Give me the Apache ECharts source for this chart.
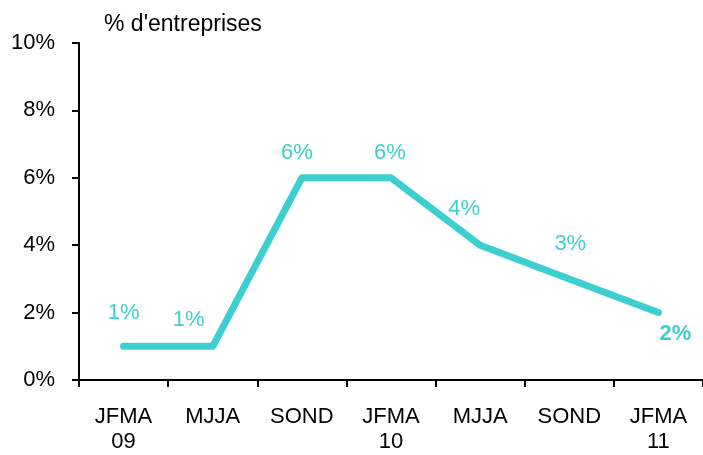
<!DOCTYPE html>
<html lang="fr">
<head>
    <meta charset="UTF-8">
    <title>% d'entreprises</title>
    <style>
        body,html{
            margin: 0;
            height: 100%;
            width: 100%;
            background: #fff;
        }
    </style>
</head>
<body>
<div id="main" style="height: 455px; width: 703px;"></div>
<script src="https://cdn.jsdelivr.net/npm/echarts@6/dist/echarts.min.js"></script>
<script>
    var periods = ['JFMA\n09', 'MJJA', 'SOND', 'JFMA\n10', 'MJJA', 'SOND', 'JFMA\n11'];
    var shares = [1, 1, 6, 6, 4, 3, 2];
    // where each value label sits, relative to its point
    var labelShift = [[0, -33], [-24, -26], [-5, -25], [-1, -25], [-16, -36], [1, -35], [17, 21]];

    var teal = '#3dcfcf';
    var font = 'Liberation Sans, Arial, sans-serif';

    var myChart = echarts.init(document.getElementById('main'));

    myChart.setOption({
        animation: false,
        grid: {left: 79, top: 43, right: -2, bottom: 75},
        title: {
            text: "% d'entreprises",
            left: 99, top: 8,
            textStyle: {fontFamily: font, fontSize: 23, fontWeight: 'normal', color: '#000'}
        },
        xAxis: {
            type: 'category',
            data: periods,
            boundaryGap: true,
            axisLine: {lineStyle: {color: '#000', width: 2}},
            axisTick: {show: true, length: 7, lineStyle: {color: '#000', width: 2}},
            axisLabel: {
                color: '#000', fontFamily: font, fontSize: 22, margin: 24,
                lineHeight: 25, interval: 0
            }
        },
        yAxis: {
            type: 'value',
            min: 0, max: 10, interval: 2,
            splitLine: {show: false},
            axisLine: {show: true, lineStyle: {color: '#000', width: 2}},
            axisTick: {show: true, length: 7, lineStyle: {color: '#000', width: 2}},
            axisLabel: {
                color: '#000', fontFamily: font, fontSize: 22, margin: 24,
                formatter: '{value}%'
            }
        },
        series: [{
            type: 'line',
            symbol: 'circle',
            symbolSize: 1,
            itemStyle: {color: teal},
            lineStyle: {color: teal, width: 7, cap: 'round', join: 'round'},
            data: shares.map(function (v, i) {
                return {
                    value: v,
                    label: {
                        show: true,
                        position: 'inside',
                        offset: labelShift[i],
                        fontWeight: i === shares.length - 1 ? 'bold' : 'normal'
                    }
                };
            }),
            label: {
                color: teal, fontFamily: font, fontSize: 22,
                formatter: '{c}%'
            }
        }]
    });
</script>
</body>
</html>
